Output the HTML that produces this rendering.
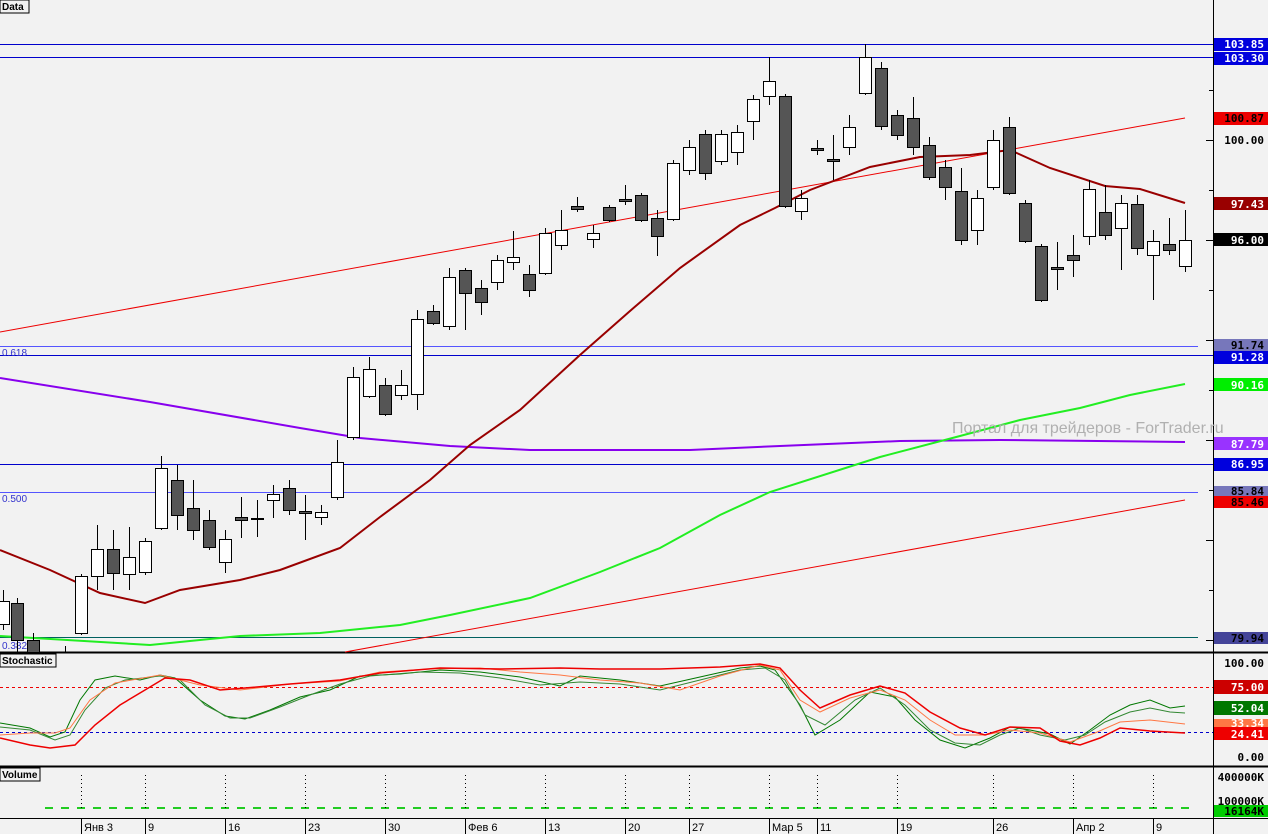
<!DOCTYPE html>
<html><head><meta charset="utf-8"><style>
body{margin:0;background:#f2f2f2;}
svg{display:block;font-family:"Liberation Sans","DejaVu Sans",sans-serif;}
.t{font-family:"DejaVu Sans Mono","Liberation Mono",monospace;font-size:11px;font-weight:bold;}
</style></head><body>
<svg width="1268" height="834" viewBox="0 0 1268 834" xmlns="http://www.w3.org/2000/svg">
<rect width="1268" height="834" fill="#f2f2f2"/>
<line x1="1213.5" y1="0" x2="1213.5" y2="834" stroke="#000"/>
<line x1="0" y1="652.5" x2="1268" y2="652.5" stroke="#000" stroke-width="2"/>
<line x1="0" y1="766.5" x2="1268" y2="766.5" stroke="#000" stroke-width="2"/>
<line x1="0" y1="818.5" x2="1268" y2="818.5" stroke="#000"/>
<g stroke="#0000cc" stroke-width="1">
<line x1="0" y1="44.5" x2="1213" y2="44.5"/>
<line x1="0" y1="57.5" x2="1213" y2="57.5"/>
<line x1="0" y1="355.5" x2="1213" y2="355.5"/>
<line x1="0" y1="464.5" x2="1213" y2="464.5"/>
</g>
<g stroke="#5555ff" stroke-width="1">
<line x1="0" y1="346.5" x2="1198" y2="346.5"/>
<line x1="0" y1="492.5" x2="1198" y2="492.5"/>
</g>
<line x1="0" y1="637.5" x2="1198" y2="637.5" stroke="#006060"/>
<text x="2" y="356" font-size="10" fill="#3333cc">0.618</text>
<text x="2" y="502" font-size="10" fill="#3333cc">0.500</text>
<text x="2" y="649" font-size="10" fill="#3333cc">0.382</text>
<line x1="0" y1="332" x2="1185" y2="118" stroke="#ee0000"/>
<line x1="345" y1="652" x2="1185" y2="500" stroke="#ee0000"/>
<polyline fill="none" stroke="#8800ee" stroke-width="2" points="0,378 150,402 300,428 360,438 450,446 530,450 690,450 780,446 900,441 1000,440 1185,442"/>
<polyline fill="none" stroke="#22ee22" stroke-width="2" points="0,636 150,645 240,636 320,633 400,625 450,615 530,598 600,572 660,548 720,515 770,492 880,457 960,436 1020,420 1080,408 1130,395 1185,384"/>
<polyline fill="none" stroke="#990000" stroke-width="2" points="0,550 50,570 100,593 145,603 180,590 240,580 280,570 340,548 380,517 430,480 470,445 520,410 580,355 630,311 680,268 740,225 775,208 810,190 870,167 920,157 970,155 1010,150 1050,168 1105,186 1140,189 1185,203"/>
<text x="952" y="433" font-size="16" fill="#b0b0b0">Портал для трейдеров - ForTrader.ru</text>
<!-- wicks -->
<path fill="none" stroke="#000" d="M3.5 590V630M17.5 598V652M33.5 633V652M65.5 646V652M81.5 574V635M97.5 525V590M113.5 530V590M129.5 527V590M145.5 538V575M161.5 456V530M177.5 465V530M193.5 480V540M209.5 510V550M225.5 530V573M241.5 497V538M257.5 500V537M273.5 485V518M289.5 480V515M305.5 495V540M321.5 505V525M337.5 440V500M353.5 367V440M369.5 357V398M385.5 378V416M401.5 370V400M417.5 310V410M433.5 305V325M449.5 268V330M465.5 268V330M481.5 280V315M497.5 255V290M513.5 231V270M529.5 265V297M545.5 228V275M561.5 210V250M577.5 197V212M593.5 225V248M609.5 205V222M625.5 185V205M641.5 193V222M657.5 210V256M673.5 160V221M689.5 140V175M705.5 130V180M721.5 130V165M737.5 125V165M753.5 95V140M769.5 57V105M785.5 94V208M801.5 190V220M817.5 140V155M833.5 135V180M849.5 115V155M865.5 44V95M881.5 62V130M897.5 110V140M913.5 97V155M929.5 137V180M945.5 160V200M961.5 168V245M977.5 190V245M993.5 130V190M1009.5 117V195M1025.5 200V243M1041.5 244V302M1057.5 242V290M1073.5 235V277M1089.5 180V245M1105.5 185V240M1121.5 195V270M1137.5 195V255M1153.5 230V300M1169.5 218V255M1185.5 210V272"/>
<!-- white bodies -->
<g fill="#fff" stroke="#000">
<rect x="-2.5" y="601.5" width="12" height="23"/>
<rect x="75.5" y="576.5" width="12" height="57"/>
<rect x="91.5" y="549.5" width="12" height="27"/>
<rect x="123.5" y="557.5" width="12" height="17"/>
<rect x="139.5" y="541.5" width="12" height="31"/>
<rect x="155.5" y="468.5" width="12" height="60"/>
<rect x="219.5" y="539.5" width="12" height="23"/>
<rect x="267.5" y="494.5" width="12" height="6"/>
<rect x="315.5" y="512.5" width="12" height="5"/>
<rect x="331.5" y="462.5" width="12" height="35"/>
<rect x="347.5" y="377.5" width="12" height="60"/>
<rect x="363.5" y="369.5" width="12" height="27"/>
<rect x="395.5" y="385.5" width="12" height="10"/>
<rect x="411.5" y="319.5" width="12" height="75"/>
<rect x="443.5" y="277.5" width="12" height="49"/>
<rect x="491.5" y="260.5" width="12" height="22"/>
<rect x="507.5" y="257.5" width="12" height="5"/>
<rect x="539.5" y="233.5" width="12" height="40"/>
<rect x="555.5" y="230.5" width="12" height="15"/>
<rect x="587.5" y="233.5" width="12" height="6"/>
<rect x="667.5" y="163.5" width="12" height="56"/>
<rect x="683.5" y="147.5" width="12" height="23"/>
<rect x="715.5" y="134.5" width="12" height="27"/>
<rect x="731.5" y="132.5" width="12" height="20"/>
<rect x="747.5" y="99.5" width="12" height="22"/>
<rect x="763.5" y="81.5" width="12" height="15"/>
<rect x="795.5" y="198.5" width="12" height="13"/>
<rect x="843.5" y="127.5" width="12" height="20"/>
<rect x="859.5" y="57.5" width="12" height="36"/>
<rect x="971.5" y="198.5" width="12" height="32"/>
<rect x="987.5" y="140.5" width="12" height="47"/>
<rect x="1083.5" y="189.5" width="12" height="47"/>
<rect x="1115.5" y="203.5" width="12" height="25"/>
<rect x="1147.5" y="241.5" width="12" height="14"/>
<rect x="1179.5" y="240.5" width="12" height="26"/>
</g>
<!-- dark bodies -->
<g fill="#555" stroke="#000">
<rect x="11.5" y="603.5" width="12" height="37"/>
<rect x="27.5" y="640.5" width="12" height="12"/>
<rect x="107.5" y="549.5" width="12" height="24"/>
<rect x="171.5" y="480.5" width="12" height="35"/>
<rect x="187.5" y="508.5" width="12" height="22"/>
<rect x="203.5" y="520.5" width="12" height="27"/>
<rect x="235.5" y="517.5" width="12" height="3"/>
<rect x="251.5" y="518.5" width="12" height="1"/>
<rect x="283.5" y="488.5" width="12" height="22"/>
<rect x="299.5" y="511.5" width="12" height="2"/>
<rect x="379.5" y="385.5" width="12" height="29"/>
<rect x="427.5" y="311.5" width="12" height="12"/>
<rect x="459.5" y="270.5" width="12" height="23"/>
<rect x="475.5" y="288.5" width="12" height="14"/>
<rect x="523.5" y="274.5" width="12" height="16"/>
<rect x="571.5" y="206.5" width="12" height="3"/>
<rect x="603.5" y="207.5" width="12" height="13"/>
<rect x="619.5" y="199.5" width="12" height="2"/>
<rect x="635.5" y="195.5" width="12" height="25"/>
<rect x="651.5" y="218.5" width="12" height="18"/>
<rect x="699.5" y="134.5" width="12" height="39"/>
<rect x="779.5" y="96.5" width="12" height="110"/>
<rect x="811.5" y="148.5" width="12" height="2"/>
<rect x="827.5" y="159.5" width="12" height="2"/>
<rect x="875.5" y="68.5" width="12" height="58"/>
<rect x="891.5" y="115.5" width="12" height="20"/>
<rect x="907.5" y="118.5" width="12" height="29"/>
<rect x="923.5" y="145.5" width="12" height="32"/>
<rect x="939.5" y="167.5" width="12" height="20"/>
<rect x="955.5" y="191.5" width="12" height="49"/>
<rect x="1003.5" y="127.5" width="12" height="66"/>
<rect x="1019.5" y="203.5" width="12" height="38"/>
<rect x="1035.5" y="246.5" width="12" height="54"/>
<rect x="1051.5" y="267.5" width="12" height="2"/>
<rect x="1067.5" y="255.5" width="12" height="5"/>
<rect x="1099.5" y="212.5" width="12" height="23"/>
<rect x="1131.5" y="204.5" width="12" height="44"/>
<rect x="1163.5" y="244.5" width="12" height="6"/>
</g>
<!-- stochastic -->
<line x1="0" y1="687.5" x2="1213" y2="687.5" stroke="#ee0000" stroke-dasharray="3,3"/>
<line x1="0" y1="732.5" x2="1213" y2="732.5" stroke="#0000cc" stroke-dasharray="3,3"/>
<g fill="none" stroke-width="1">
<polyline stroke="#007700" points="0,723 30,728 50,737 65,732 80,700 95,680 115,676 140,680 160,675 175,678 200,700 225,716 245,719 270,710 300,697 330,690 360,676 400,674 440,670 480,672 520,677 560,686 580,676 620,680 660,686 700,677 740,668 760,666 775,670 800,705 815,735 840,720 870,692 895,697 915,720 940,740 965,748 990,738 1010,727 1030,730 1050,734 1070,744 1090,730 1110,715 1130,705 1150,700 1170,708 1185,706"/>
<polyline stroke="#338833" points="0,727 30,730 55,740 70,735 85,710 105,688 125,680 160,676 180,680 205,705 230,718 250,718 280,707 310,695 340,684 370,676 420,672 460,673 500,678 540,685 580,682 620,684 660,690 700,680 740,670 765,668 785,680 805,715 825,725 855,700 880,688 905,705 930,730 955,743 980,745 1000,735 1020,728 1040,735 1065,740 1085,735 1105,722 1130,712 1150,708 1170,712 1185,713"/>
<polyline stroke="#ff7744" points="0,735 30,733 55,733 70,728 90,700 115,683 160,675 200,685 240,690 290,684 340,681 380,672 430,669 480,668 520,672 560,675 600,680 640,683 680,690 720,676 760,665 780,670 800,700 820,712 850,698 880,690 905,700 930,720 955,735 985,735 1010,730 1040,733 1070,742 1095,733 1120,722 1150,720 1185,724"/>
<polyline stroke="#ee0000" stroke-width="1.5" points="0,738 30,745 50,748 75,745 95,725 120,705 145,690 165,678 190,680 220,690 245,688 290,684 340,680 380,673 440,668 500,669 560,668 600,669 660,669 720,667 760,664 780,668 800,690 820,708 850,695 880,686 905,693 930,712 960,728 985,735 1010,727 1040,728 1060,741 1080,745 1100,738 1120,728 1150,731 1185,733"/>
</g>
<!-- volume -->
<line x1="45" y1="808" x2="1192" y2="808" stroke="#22cc22" stroke-width="2" stroke-dasharray="8,8"/>
<g stroke="#000" stroke-dasharray="1,3">
<line x1="81.5" y1="775" x2="81.5" y2="810"/><line x1="145.5" y1="775" x2="145.5" y2="810"/><line x1="225.5" y1="775" x2="225.5" y2="810"/><line x1="305.5" y1="775" x2="305.5" y2="810"/><line x1="385.5" y1="775" x2="385.5" y2="810"/><line x1="465.5" y1="775" x2="465.5" y2="810"/><line x1="545.5" y1="775" x2="545.5" y2="810"/><line x1="625.5" y1="775" x2="625.5" y2="810"/><line x1="689.5" y1="775" x2="689.5" y2="810"/><line x1="769.5" y1="775" x2="769.5" y2="810"/><line x1="817.5" y1="775" x2="817.5" y2="810"/><line x1="897.5" y1="775" x2="897.5" y2="810"/><line x1="993.5" y1="775" x2="993.5" y2="810"/><line x1="1073.5" y1="775" x2="1073.5" y2="810"/><line x1="1153.5" y1="775" x2="1153.5" y2="810"/>
</g>
<rect x="0" y="0" width="29" height="13" fill="#f2f2f2" stroke="#000"/>
<text x="2" y="10" font-size="10" font-weight="bold">Data</text>
<rect x="0" y="654" width="56" height="13" fill="#f2f2f2" stroke="#000"/>
<text x="2" y="664" font-size="10" font-weight="bold">Stochastic</text>
<rect x="0" y="768" width="40" height="13" fill="#f2f2f2" stroke="#000"/>
<text x="2" y="778" font-size="10" font-weight="bold">Volume</text>
<g font-size="11" fill="#000">
<g stroke="#000">
<line x1="81.5" y1="819" x2="81.5" y2="834"/><line x1="145.5" y1="819" x2="145.5" y2="834"/><line x1="225.5" y1="819" x2="225.5" y2="834"/><line x1="305.5" y1="819" x2="305.5" y2="834"/><line x1="385.5" y1="819" x2="385.5" y2="834"/><line x1="465.5" y1="819" x2="465.5" y2="834"/><line x1="545.5" y1="819" x2="545.5" y2="834"/><line x1="625.5" y1="819" x2="625.5" y2="834"/><line x1="689.5" y1="819" x2="689.5" y2="834"/><line x1="769.5" y1="819" x2="769.5" y2="834"/><line x1="817.5" y1="819" x2="817.5" y2="834"/><line x1="897.5" y1="819" x2="897.5" y2="834"/><line x1="993.5" y1="819" x2="993.5" y2="834"/><line x1="1073.5" y1="819" x2="1073.5" y2="834"/><line x1="1153.5" y1="819" x2="1153.5" y2="834"/>
</g>
<text x="84" y="831">Янв 3</text><text x="148" y="831">9</text><text x="228" y="831">16</text><text x="308" y="831">23</text><text x="388" y="831">30</text><text x="468" y="831">Фев 6</text><text x="548" y="831">13</text><text x="628" y="831">20</text><text x="692" y="831">27</text><text x="772" y="831">Мар 5</text><text x="820" y="831">11</text><text x="900" y="831">19</text><text x="996" y="831">26</text><text x="1076" y="831">Апр 2</text><text x="1156" y="831">9</text>
</g>
<g class="t">
<rect x="1214" y="38" width="54" height="13" fill="#0000dd"/><text x="1264" y="48" text-anchor="end" fill="#fff">103.85</text>
<rect x="1214" y="52" width="54" height="13" fill="#0000dd"/><text x="1264" y="62" text-anchor="end" fill="#fff">103.30</text>
<rect x="1214" y="112" width="54" height="13" fill="#ee0000"/><text x="1264" y="122" text-anchor="end" fill="#000">100.87</text>
<text x="1264" y="144" text-anchor="end">100.00</text>
<rect x="1214" y="197" width="54" height="13" fill="#990000"/><text x="1264" y="208" text-anchor="end" fill="#fff">97.43</text>
<rect x="1214" y="233" width="54" height="13" fill="#000"/><text x="1264" y="244" text-anchor="end" fill="#fff">96.00</text>
<rect x="1214" y="339" width="54" height="13" fill="#7777bb"/><text x="1264" y="349" text-anchor="end">91.74</text>
<rect x="1214" y="351" width="54" height="13" fill="#0000dd"/><text x="1264" y="361" text-anchor="end" fill="#fff">91.28</text>
<rect x="1214" y="378" width="54" height="13" fill="#00ee00"/><text x="1264" y="389" text-anchor="end" fill="#fff">90.16</text>
<rect x="1214" y="437" width="54" height="13" fill="#9933ff"/><text x="1264" y="448" text-anchor="end" fill="#fff">87.79</text>
<rect x="1214" y="458" width="54" height="13" fill="#0000dd"/><text x="1264" y="468" text-anchor="end" fill="#fff">86.95</text>
<rect x="1214" y="486" width="54" height="10" fill="#7777bb"/><text x="1264" y="495" text-anchor="end">85.84</text>
<rect x="1214" y="496" width="54" height="12" fill="#ee0000"/><text x="1264" y="506" text-anchor="end">85.46</text>
<rect x="1214" y="632" width="54" height="12" fill="#444499"/><text x="1264" y="642" text-anchor="end">79.94</text>
<text x="1264" y="667" text-anchor="end">100.00</text>
<rect x="1214" y="680" width="54" height="14" fill="#cc0000"/><text x="1264" y="691" text-anchor="end" fill="#fff">75.00</text>
<rect x="1214" y="701" width="54" height="14" fill="#007700"/><text x="1264" y="712" text-anchor="end" fill="#fff">52.04</text>
<rect x="1214" y="719" width="54" height="8" fill="#ff7744"/><text x="1264" y="727" text-anchor="end" fill="#fff">33.34</text>
<rect x="1214" y="727" width="54" height="13" fill="#ee0000"/><text x="1264" y="738" text-anchor="end" fill="#fff">24.41</text>
<text x="1264" y="761" text-anchor="end">0.00</text>
<text x="1264" y="781" text-anchor="end">400000K</text>
<text x="1264" y="805" text-anchor="end">100000K</text>
<rect x="1214" y="805" width="54" height="12" fill="#00cc00"/><text x="1264" y="815" text-anchor="end">16164K</text>
</g>
<g stroke="#000">
<line x1="1206" y1="140.5" x2="1213" y2="140.5"/><line x1="1206" y1="240.5" x2="1213" y2="240.5"/><line x1="1206" y1="340.5" x2="1213" y2="340.5"/><line x1="1206" y1="440.5" x2="1213" y2="440.5"/><line x1="1206" y1="540.5" x2="1213" y2="540.5"/><line x1="1206" y1="640.5" x2="1213" y2="640.5"/>
<line x1="1209" y1="90.5" x2="1213" y2="90.5"/><line x1="1209" y1="190.5" x2="1213" y2="190.5"/><line x1="1209" y1="290.5" x2="1213" y2="290.5"/><line x1="1209" y1="390.5" x2="1213" y2="390.5"/><line x1="1209" y1="490.5" x2="1213" y2="490.5"/><line x1="1209" y1="590.5" x2="1213" y2="590.5"/>
</g>
</svg>
</body></html>
